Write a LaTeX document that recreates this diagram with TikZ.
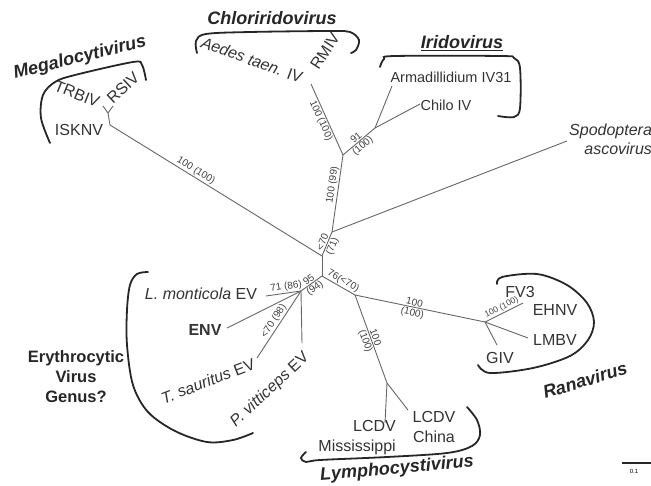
\documentclass[tikz,border=0pt]{standalone}
\usepackage{fontspec}
\setmainfont{Liberation Sans}
\usetikzlibrary{positioning}

\begin{document}
\begin{tikzpicture}[
    x=1pt,
    y=-1pt,
    branch/.style={draw=black!60, line width=0.9pt},
    bracket/.style={draw=black!85, line width=1.8pt, line cap=round},
    leaf/.style={inner sep=0pt, text=black!80, font=\fontsize{16}{20}\selectfont},
    smallleaf/.style={inner sep=0pt, text=black!80, font=\fontsize{14.5}{17}\selectfont},
    genus/.style={inner sep=0pt, text=black!85, font=\fontsize{18}{20}\selectfont\bfseries\itshape},
    boot/.style={inner sep=1pt, sloped, text=black!75, font=\fontsize{10}{11}\selectfont}
]
\useasboundingbox (0,0) rectangle (651,485);

% branching points
\coordinate (n1) at (332,232);
\coordinate (n0) at (322,256);
\coordinate (n3) at (322,276);
\coordinate (n2) at (343,155);
\coordinate (irido) at (375,128);
\coordinate (chloro) at (311,84);
\coordinate (megay) at (108,113);
\coordinate (mega) at (110,125);
\coordinate (k) at (355,295);
\coordinate (rana) at (485,322);
\coordinate (fv) at (523,303);
\coordinate (lympho) at (387,383);
\coordinate (erythro) at (301,291);

% tips
\coordinate (trbiv) at (103,106);
\coordinate (rsiv) at (113,106);
\coordinate (arma) at (392,86);
\coordinate (chilo) at (420,104);
\coordinate (spodo) at (567,141);
\coordinate (lmbv) at (528,338);
\coordinate (giv) at (497,345);
\coordinate (lcdvm) at (385,423);
\coordinate (lcdvc) at (408,410);
\coordinate (lmon) at (266,296);
\coordinate (env) at (227,328);
\coordinate (tsaur) at (257,358);
\coordinate (pvit) at (302,343);

% tree
\draw[branch] (megay) -- (trbiv);
\draw[branch] (megay) -- (rsiv);
\draw[branch] (megay) -- (mega);
\draw[branch] (mega) -- node[boot, pos=0.39, above] {100 (100)} (n0);
\draw[branch] (n0) -- node[boot, above] {<70} node[boot, below] {(71)} (n1);
\draw[branch] (n3) -- (n0);
\draw[branch] (n1) -- node[boot, pos=0.6, above] {100 (99)} (n2);
\draw[branch] (n1) -- (spodo);
\draw[branch] (chloro) -- node[boot, pos=0.48, below] {100 (100)} (n2);
\draw[branch] (n2) -- node[boot, above] {91} node[boot, below] {(100)} (irido);
\draw[branch] (irido) -- (arma);
\draw[branch] (irido) -- (chilo);
\draw[branch] (n3) -- node[boot, pos=0.55, above] {76(<70)} (k);
\draw[branch] (k) -- node[boot, pos=0.45, above] {100} node[boot, pos=0.45, below] {(100)} (rana);
\draw[branch] (rana) -- node[boot, above, font=\fontsize{8.5}{9}\selectfont] {100 (100)} (fv);
\draw[branch] (rana) -- (lmbv);
\draw[branch] (rana) -- (giv);
\draw[branch] (k) -- node[boot, above] {100} node[boot, below] {(100)} (lympho);
\draw[branch] (lympho) -- (lcdvm);
\draw[branch] (lympho) -- (lcdvc);
\draw[branch] (erythro) -- node[boot, above] {95} node[boot, below] {(94)} (n3);
\draw[branch] (lmon) -- node[boot, pos=0.6, above] {71 (86)} (erythro);
\draw[branch] (env) -- (erythro);
\draw[branch] (tsaur) -- node[boot, above] {<70 (98)} (erythro);
\draw[branch] (pvit) -- (erythro);

% leaves
\node[leaf, rotate=-22] (trbiv-l) at (77,94) {TRBIV};
\node[leaf, rotate=43] (rsiv-l) at (123,88) {RSIV};
\node[leaf] (isknv-l) at (79,130) {ISKNV};
\node[leaf, rotate=-20] (aedes-l) at (252,60) {\textit{Aedes taen.} IV};
\node[leaf, rotate=57] (rmiv-l) at (325,51) {RMIV};
\node[smallleaf] (arma-l) at (451,77) {Armadillidium IV31};
\node[smallleaf] (chilo-l) at (446,105) {Chilo IV};
\node[leaf, align=right, anchor=north west, font=\fontsize{16}{19}\selectfont\itshape] (spodo-l) at (569,124) {Spodoptera\\ascovirus};
\node[leaf] (fv3-l) at (520,292) {FV3};
\node[leaf] (ehnv-l) at (555,310) {EHNV};
\node[leaf] (lmbv-l) at (555,340) {LMBV};
\node[leaf] (giv-l) at (500,358) {GIV};
\node[leaf, align=right, anchor=north east] (lcdvm-l) at (396,420) {LCDV\\Mississippi};
\node[leaf, align=center] (lcdvc-l) at (434,427) {LCDV\\China};
\node[leaf] (lmon-l) at (201,294) {\textit{L. monticola} EV};
\node[leaf, font=\fontsize{16}{20}\selectfont\bfseries] (env-l) at (205,330) {ENV};
\node[leaf, rotate=21] (tsaur-l) at (208,381) {\textit{T. sauritus} EV};
\node[leaf, rotate=43] (pvit-l) at (270,390) {\textit{P. vitticeps} EV};

% genera
\node[genus, rotate=14] (megalo-g) at (80,58) {Megalocytivirus};
\node[genus] (chloro-g) at (272,18) {Chloriridovirus};
\node[genus] (irido-g) at (462,43) {\underline{Iridovirus}};
\node[genus, rotate=17] (rana-g) at (585,380) {Ranavirus};
\node[genus, rotate=5] (lympho-g) at (397,469) {Lymphocystivirus};
\node[genus, align=center, font=\fontsize{16.5}{20}\selectfont\bfseries] (erythro-g) at (76,377) {Erythrocytic\\Virus\\Genus?};

% brackets
\draw[bracket] plot[smooth, tension=0.55] coordinates {(50,143) (41,118) (43,95) (55,82) (75,75) (133,62) (142,65) (146,80)};
\draw[bracket] plot[smooth, tension=0.55] coordinates {(197,53) (196,41) (206,34) (250,32) (330,31) (350,32) (359,40) (356,50) (351,53)};
\draw[bracket] plot[smooth, tension=0.55] coordinates {(380,67) (384,59) (395,56) (500,56) (514,58) (520,68) (520,108) (514,117) (498,116)};
\draw[bracket] plot[smooth, tension=0.55] coordinates {(497,284) (502,277) (537,274) (567,285) (587,303) (594,322) (588,340) (570,356) (533,368) (490,373) (478,365)};
\draw[bracket] plot[smooth, tension=0.55] coordinates {(467,407) (477,420) (480,435) (472,446) (447,453) (387,457) (320,460) (306,462) (301,458) (306,452)};
\draw[bracket] plot[smooth, tension=0.55] coordinates {(148,272) (137,274) (130,285) (127,310) (127,345) (133,385) (148,412) (175,431) (207,442) (233,440) (253,433)};

% scale
\coordinate (sb1) at (622,463);
\coordinate (sb2) at (651,463);
\draw[line width=1.1pt, black!85] (sb1) -- (sb2);
\node[inner sep=0pt, font=\fontsize{6}{7}\selectfont] (sb-l) at (634,471) {0.1};

\end{tikzpicture}
\end{document}
